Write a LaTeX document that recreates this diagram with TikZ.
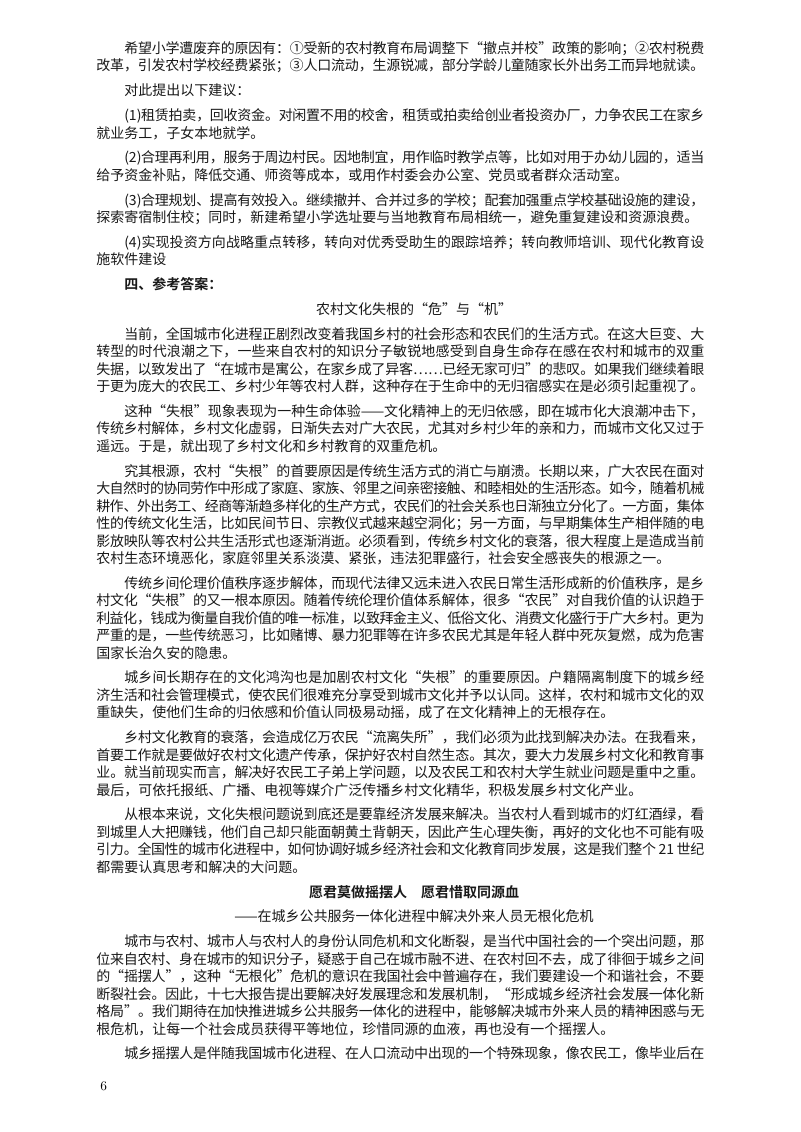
\documentclass[tikz,border=0pt]{standalone}
\usepackage{fontspec}
\usetikzlibrary{calc}
\newfontfamily\cjk{Noto Sans CJK SC}[BoldFont={Noto Sans CJK SC Bold}]
\XeTeXlinebreaklocale "zh"
\XeTeXlinebreakskip=0pt plus 1.5pt minus 0.5pt
\pretolerance=-1 \tolerance=9999 \emergencystretch=0pt
\newcommand\bodyfont{\cjk\fontsize{10.5pt}{13.1pt}\selectfont}
\tikzset{
  para/.style={anchor=north west,inner sep=0pt,text width=456pt,align=justify,
    font=\bodyfont,text=black!90},
  heading/.style={anchor=north,inner sep=0pt,font=\bodyfont,text=black!90},
  boldtxt/.style={font=\bodyfont\bfseries},
}
\newcommand\ind{\strut\hspace*{2em}}
\def\gp{6.8}
\begin{document}
\begin{tikzpicture}[x=0.75pt,y=-0.75pt]
\useasboundingbox[fill=white] (0,0) rectangle (800,1132);
\node[para] (p1) at (96,41) {\ind 希望小学遭废弃的原因有：①受新的农村教育布局调整下“撤点并校”政策的影响；②农村税费\linebreak 改革，引发农村学校经费紧张；③人口流动，生源锐减，部分学龄儿童随家长外出务工而异地就读。\strut};
\node[para] (p2) at ($(p1.south west)+(0,\gp)$) {\ind 对此提出以下建议：\strut};
\node[para] (p3) at ($(p2.south west)+(0,\gp)$) {\ind (1)租赁拍卖，回收资金。对闲置不用的校舍，租赁或拍卖给创业者投资办厂，力争农民工在家乡\linebreak 就业务工，子女本地就学。\strut};
\node[para] (p4) at ($(p3.south west)+(0,\gp)$) {\ind (2)合理再利用，服务于周边村民。因地制宜，用作临时教学点等，比如对用于办幼儿园的，适当\linebreak 给予资金补贴，降低交通、师资等成本，或用作村委会办公室、党员或者群众活动室。\strut};
\node[para] (p5) at ($(p4.south west)+(0,\gp)$) {\ind (3)合理规划、提高有效投入。继续撤并、合并过多的学校；配套加强重点学校基础设施的建设，\linebreak 探索寄宿制住校；同时，新建希望小学选址要与当地教育布局相统一，避免重复建设和资源浪费。\strut};
\node[para] (p6) at ($(p5.south west)+(0,\gp)$) {\ind (4)实现投资方向战略重点转移，转向对优秀受助生的跟踪培养；转向教师培训、现代化教育设\linebreak 施软件建设\strut};
\node[para,boldtxt] (h4) at ($(p6.south west)+(0,\gp)$) {\ind 四、参考答案：\strut};
\node[heading] (t1) at ($(414,0 |- h4.south)+(0,\gp)$) {\strut 农村文化失根的“危”与“机”};
\node[para] (p7) at ($(p6.west |- t1.south)+(0,\gp)$) {\ind 当前，全国城市化进程正剧烈改变着我国乡村的社会形态和农民们的生活方式。在这大巨变、大\linebreak 转型的时代浪潮之下，一些来自农村的知识分子敏锐地感受到自身生命存在感在农村和城市的双重\linebreak 失据，以致发出了“在城市是寓公，在家乡成了异客……已经无家可归”的悲叹。如果我们继续着眼\linebreak 于更为庞大的农民工、乡村少年等农村人群，这种存在于生命中的无归宿感实在是必须引起重视了。\strut};
\node[para] (p8) at ($(p7.south west)+(0,\gp)$) {\ind 这种“失根”现象表现为一种生命体验——文化精神上的无归依感，即在城市化大浪潮冲击下，\linebreak 传统乡村解体，乡村文化虚弱，日渐失去对广大农民，尤其对乡村少年的亲和力，而城市文化又过于\linebreak 遥远。于是，就出现了乡村文化和乡村教育的双重危机。\strut};
\node[para] (p9) at ($(p8.south west)+(0,\gp)$) {\ind 究其根源，农村“失根”的首要原因是传统生活方式的消亡与崩溃。长期以来，广大农民在面对\linebreak 大自然时的协同劳作中形成了家庭、家族、邻里之间亲密接触、和睦相处的生活形态。如今，随着机械\linebreak 耕作、外出务工、经商等渐趋多样化的生产方式，农民们的社会关系也日渐独立分化了。一方面，集体\linebreak 性的传统文化生活，比如民间节日、宗教仪式越来越空洞化；另一方面，与早期集体生产相伴随的电\linebreak 影放映队等农村公共生活形式也逐渐消逝。必须看到，传统乡村文化的衰落，很大程度上是造成当前\linebreak 农村生态环境恶化，家庭邻里关系淡漠、紧张，违法犯罪盛行，社会安全感丧失的根源之一。\strut};
\node[para] (p10) at ($(p9.south west)+(0,\gp)$) {\ind 传统乡间伦理价值秩序逐步解体，而现代法律又远未进入农民日常生活形成新的价值秩序，是乡\linebreak 村文化“失根”的又一根本原因。随着传统伦理价值体系解体，很多“农民”对自我价值的认识趋于\linebreak 利益化，钱成为衡量自我价值的唯一标准，以致拜金主义、低俗文化、消费文化盛行于广大乡村。更为\linebreak 严重的是，一些传统恶习，比如赌博、暴力犯罪等在许多农民尤其是年轻人群中死灰复燃，成为危害\linebreak 国家长治久安的隐患。\strut};
\node[para] (p11) at ($(p10.south west)+(0,\gp)$) {\ind 城乡间长期存在的文化鸿沟也是加剧农村文化“失根”的重要原因。户籍隔离制度下的城乡经\linebreak 济生活和社会管理模式，使农民们很难充分享受到城市文化并予以认同。这样，农村和城市文化的双\linebreak 重缺失，使他们生命的归依感和价值认同极易动摇，成了在文化精神上的无根存在。\strut};
\node[para] (p12) at ($(p11.south west)+(0,\gp)$) {\ind 乡村文化教育的衰落，会造成亿万农民“流离失所”，我们必须为此找到解决办法。在我看来，\linebreak 首要工作就是要做好农村文化遗产传承，保护好农村自然生态。其次，要大力发展乡村文化和教育事\linebreak 业。就当前现实而言，解决好农民工子弟上学问题，以及农民工和农村大学生就业问题是重中之重。\linebreak 最后，可依托报纸、广播、电视等媒介广泛传播乡村文化精华，积极发展乡村文化产业。\strut};
\node[para] (p13) at ($(p12.south west)+(0,\gp)$) {\ind 从根本来说，文化失根问题说到底还是要靠经济发展来解决。当农村人看到城市的灯红酒绿，看\linebreak 到城里人大把赚钱，他们自己却只能面朝黄土背朝天，因此产生心理失衡，再好的文化也不可能有吸\linebreak 引力。全国性的城市化进程中，如何协调好城乡经济社会和文化教育同步发展，这是我们整个 21 世纪\linebreak 都需要认真思考和解决的大问题。\strut};
\node[heading,boldtxt] (t2) at ($(414,0 |- p13.south)+(0,\gp)$) {\strut 愿君莫做摇摆人\quad 愿君惜取同源血};
\node[heading] (t3) at ($(414,0 |- t2.south)+(0,\gp)$) {\strut ——在城乡公共服务一体化进程中解决外来人员无根化危机};
\node[para] (p14) at ($(p13.west |- t3.south)+(0,\gp)$) {\ind 城市与农村、城市人与农村人的身份认同危机和文化断裂，是当代中国社会的一个突出问题，那\linebreak 位来自农村、身在城市的知识分子，疑惑于自己在城市融不进、在农村回不去，成了徘徊于城乡之间\linebreak 的“摇摆人”，这种“无根化”危机的意识在我国社会中普遍存在，我们要建设一个和谐社会，不要\linebreak 断裂社会。因此，十七大报告提出要解决好发展理念和发展机制，“形成城乡经济社会发展一体化新\linebreak 格局”。我们期待在加快推进城乡公共服务一体化的进程中，能够解决城市外来人员的精神困惑与无\linebreak 根危机，让每一个社会成员获得平等地位，珍惜同源的血液，再也没有一个摇摆人。\strut};
\node[para] (p15) at ($(p14.south west)+(0,\gp)$) {\parfillskip=0pt\ind 城乡摇摆人是伴随我国城市化进程、在人口流动中出现的一个特殊现象，像农民工，像毕业后在\strut};
\node[anchor=west,inner sep=0pt,font=\fontsize{10pt}{12pt}\selectfont] (pg) at (100,1086) {6};
\end{tikzpicture}
\end{document}
